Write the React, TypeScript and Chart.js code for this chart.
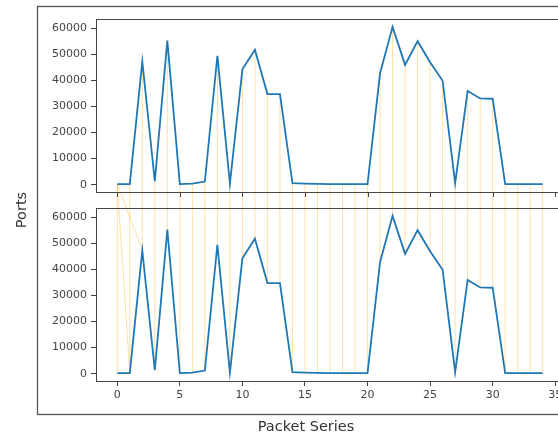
import React, { useEffect, useRef } from "react";
import { Chart, registerables } from "chart.js";

Chart.register(...registerables);

// ---- data ----
const packetIndex = [0, 1, 2, 3, 4, 5, 6, 7, 8, 9, 10, 11, 12, 13, 14, 15, 16, 17, 18, 19, 20, 21, 22, 23, 24, 25, 26, 27, 28, 29, 30, 31, 32, 33, 34];
const ports = [200, 200, 47300, 1300, 55300, 200, 400, 1200, 49500, 400, 44300, 51800, 34800, 34800, 600, 400, 300, 200, 200, 200, 200, 42800, 60600, 46000, 55100, 47000, 39900, 600, 36000, 33100, 33000, 200, 200, 200, 200];
const xTickValues = [0, 5, 10, 15, 20, 25, 30, 35];
const yTickValues = [0, 10000, 20000, 30000, 40000, 50000, 60000];
// connections: top-plot point index -> bottom-plot point index
const linkFrom = [0, 0, 0, 1, 2, 3, 4, 5, 6, 7, 8, 9, 10, 11, 12, 13, 14, 15, 16, 17, 18, 19, 20, 21, 22, 23, 24, 25, 26, 27, 28, 29, 30, 31, 32, 33, 34];
const linkTo = [1, 2, 0, 1, 2, 3, 4, 5, 6, 7, 8, 9, 10, 11, 12, 13, 14, 15, 16, 17, 18, 19, 20, 21, 22, 23, 24, 25, 26, 27, 28, 29, 30, 31, 32, 33, 34];
const xLabel = "Packet Series";
const yLabel = "Ports";

const FONT = "'DejaVu Sans', sans-serif";
const INK = "#444";

export default function App() {
  const ref = useRef<HTMLCanvasElement>(null);

  useEffect(() => {
    const canvas = ref.current;
    if (!canvas) return;

    const dMin = Math.min(...ports);
    const dMax = Math.max(...ports);
    const yPad = (dMax - dMin) * 0.05;
    const xPad = (packetIndex[packetIndex.length - 1] - packetIndex[0]) * 0.05;
    const tickFont = { family: FONT, size: 11 };

    const yScale = (weight: number) => ({
      type: "linear",
      position: "left",
      stack: "plots",
      stackWeight: 173,
      weight,
      min: dMin - yPad,
      max: dMax + yPad,
      afterBuildTicks: (s: any) => {
        s.ticks = yTickValues.map((v) => ({ value: v }));
      },
      afterFit: (s: any) => {
        s.width = 96;
      },
      ticks: { font: tickFont, color: INK, padding: 4, callback: (v: any) => String(v) },
      grid: { display: true, drawOnChartArea: false, drawTicks: true, tickLength: 5, color: INK, tickWidth: 1 },
      border: { display: false },
    });

    const decor = {
      id: "decor",
      beforeDatasetsDraw(chart: any) {
        const { ctx } = chart;
        const xs = chart.scales.x;
        const yt = chart.scales.yTop;
        const yb = chart.scales.yBot;
        ctx.save();
        ctx.strokeStyle = "rgba(255,165,0,0.35)";
        ctx.lineWidth = 1;
        for (let k = 0; k < linkFrom.length; k++) {
          const a = linkFrom[k];
          const b = linkTo[k];
          ctx.beginPath();
          ctx.moveTo(xs.getPixelForValue(packetIndex[a]), yt.getPixelForValue(ports[a]));
          ctx.lineTo(xs.getPixelForValue(packetIndex[b]), yb.getPixelForValue(ports[b]));
          ctx.stroke();
        }
        ctx.restore();
      },
      afterDraw(chart: any) {
        const { ctx, chartArea } = chart;
        const xs = chart.scales.x;
        const yt = chart.scales.yTop;
        const yb = chart.scales.yBot;
        ctx.save();
        ctx.strokeStyle = INK;
        ctx.lineWidth = 1;
        // subplot frames
        for (const ys of [yt, yb]) {
          ctx.strokeRect(Math.round(xs.left) + 0.5, Math.round(ys.top) + 0.5, Math.round(xs.right - xs.left), Math.round(ys.bottom - ys.top));
        }
        // top subplot x tick marks (labels hidden, shared x)
        for (const t of xs.ticks) {
          const px = Math.round(xs.getPixelForValue(t.value)) + 0.5;
          ctx.beginPath();
          ctx.moveTo(px, Math.round(yt.bottom));
          ctx.lineTo(px, Math.round(yt.bottom) + 5);
          ctx.stroke();
        }
        // outer (big) axes frame
        const fl = chartArea.left - 59;
        const fr = chartArea.right + 11;
        const ft = chartArea.top - 13;
        const fb = chartArea.bottom + 33;
        ctx.strokeStyle = "#555";
        ctx.lineWidth = 1.3;
        ctx.strokeRect(fl + 0.5, ft + 0.5, fr - fl, fb - ft);
        // labels of the big axes
        ctx.fillStyle = "#333";
        ctx.font = `14.5px ${FONT}`;
        ctx.textAlign = "center";
        ctx.textBaseline = "middle";
        ctx.fillText(xLabel, (fl + fr) / 2, fb + 13);
        ctx.save();
        ctx.translate(fl - 15, (ft + fb) / 2);
        ctx.rotate(-Math.PI / 2);
        ctx.fillText(yLabel, 0, 0);
        ctx.restore();
        ctx.restore();
      },
    };

    const chart = new Chart(canvas, {
      type: "line",
      data: {
        datasets: [
          {
            data: packetIndex.map((x, i) => ({ x, y: ports[i] })),
            yAxisID: "yTop",
            borderColor: "#1f77b4",
            borderWidth: 1.8,
            pointRadius: 0,
            tension: 0,
          },
          {
            data: packetIndex.map((x, i) => ({ x, y: ports[i] })),
            yAxisID: "yBot",
            borderColor: "#1f77b4",
            borderWidth: 1.8,
            pointRadius: 0,
            tension: 0,
          },
        ],
      },
      options: {
        animation: false,
        responsive: false,
        devicePixelRatio: 1,
        layout: { padding: { top: 19, right: 36, left: 0, bottom: 0 } },
        plugins: { legend: { display: false }, tooltip: { enabled: false } },
        scales: {
          x: {
            type: "linear",
            position: "bottom",
            min: packetIndex[0] - xPad,
            max: packetIndex[packetIndex.length - 1] + xPad,
            afterBuildTicks: (s: any) => {
              s.ticks = xTickValues.map((v) => ({ value: v }));
            },
            afterFit: (s: any) => {
              s.height = 58;
            },
            ticks: { font: tickFont, color: INK, padding: 3, maxRotation: 0, callback: (v: any) => String(v) },
            grid: { display: true, drawOnChartArea: false, drawTicks: true, tickLength: 5, color: INK, tickWidth: 1 },
            border: { display: false },
          },
          yTop: yScale(3),
          yGap: { type: "linear", position: "left", stack: "plots", stackWeight: 16, weight: 2, display: false },
          yBot: yScale(1),
        } as any,
      },
      plugins: [decor],
    } as any);

    return () => chart.destroy();
  }, []);

  return (
    <div style={{ position: "fixed", left: 0, top: 0, width: 558, height: 439, overflow: "hidden", background: "#fff" }}>
      <canvas ref={ref} width={600} height={439} style={{ width: 600, height: 439, display: "block" }} />
    </div>
  );
}
